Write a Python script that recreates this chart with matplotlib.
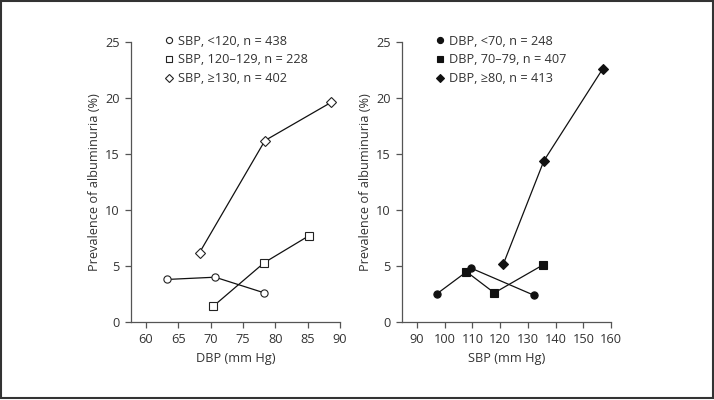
import matplotlib.pyplot as plt
from matplotlib.patches import Rectangle

# dati
dbp_circ_x = [63.3, 70.7, 78.3]
dbp_circ_y = [3.8, 4.0, 2.6]
dbp_sq_x = [70.4, 78.3, 85.2]
dbp_sq_y = [1.4, 5.3, 7.7]
dbp_dia_x = [68.3, 78.4, 88.6]
dbp_dia_y = [6.2, 16.2, 19.6]

sbp_circ_x = [97.1, 109.6, 132.1]
sbp_circ_y = [2.5, 4.8, 2.4]
sbp_sq_x = [107.8, 117.9, 135.5]
sbp_sq_y = [4.5, 2.6, 5.1]
sbp_dia_x = [121.2, 135.8, 157.0]
sbp_dia_y = [5.2, 14.4, 22.6]

left_labels = ['SBP, <120, n = 438', 'SBP, 120–129, n = 228', 'SBP, ≥130, n = 402']
right_labels = ['DBP, <70, n = 248', 'DBP, 70–79, n = 407', 'DBP, ≥80, n = 413']

plt.rcParams['font.family'] = ['Open Sans', 'DejaVu Sans']

FS = 9.2
TXT = '#333333'
AX = '#555555'

fig = plt.figure(figsize=(7.14, 4.0), dpi=100)
ax1 = fig.add_axes([131/714, 1-322/400, (340-131)/714, 280/400])
ax2 = fig.add_axes([402/714, 1-322/400, (611-402)/714, 280/400])

def style(ax, xlim, xticks, xlabel):
    ax.set_xlim(*xlim)
    ax.set_ylim(0, 25)
    ax.set_xticks(xticks)
    ax.set_yticks([0, 5, 10, 15, 20, 25])
    for s in ['top', 'right']:
        ax.spines[s].set_visible(False)
    for s in ['left', 'bottom']:
        ax.spines[s].set_color(AX)
        ax.spines[s].set_linewidth(0.9)
    ax.tick_params(direction='out', length=4, width=0.9, color=AX,
                   labelcolor=TXT, labelsize=FS, pad=4)
    ax.set_xlabel(xlabel, color=TXT, fontsize=FS, labelpad=4)
    ax.set_ylabel('Prevalence of albuminuria (%)', color=TXT, fontsize=FS, labelpad=3)

kw = dict(color='#111111', lw=0.9, markersize=5.2, markeredgewidth=0.8)
ax1.plot(dbp_circ_x, dbp_circ_y, marker='o', mfc='white', mec='#222222', label=left_labels[0], **kw)
ax1.plot(dbp_sq_x, dbp_sq_y, marker='s', mfc='white', mec='#222222', label=left_labels[1], **kw)
ax1.plot(dbp_dia_x, dbp_dia_y, marker='D', mfc='white', mec='#222222', label=left_labels[2],
         **{**kw, 'markersize': 4.8})
style(ax1, (57.7, 90), [60, 65, 70, 75, 80, 85, 90], 'DBP (mm Hg)')

ax2.plot(sbp_circ_x, sbp_circ_y, marker='o', mfc='#111111', mec='#111111', label=right_labels[0], **kw)
ax2.plot(sbp_sq_x, sbp_sq_y, marker='s', mfc='#111111', mec='#111111', label=right_labels[1], **kw)
ax2.plot(sbp_dia_x, sbp_dia_y, marker='D', mfc='#111111', mec='#111111', label=right_labels[2],
         **{**kw, 'markersize': 4.8})
style(ax2, (84.6, 160), [90, 100, 110, 120, 130, 140, 150, 160], 'SBP (mm Hg)')

for ax in (ax1, ax2):
    leg = ax.legend(loc='upper left', bbox_to_anchor=(0.155, 1.045), frameon=False,
                    handlelength=0, handletextpad=0.75, labelspacing=0.45,
                    fontsize=FS, borderaxespad=0, markerscale=0.85)
    for t in leg.get_texts():
        t.set_color(TXT)

fig.patches.append(Rectangle((0.001, 0.004), 0.997, 0.993, transform=fig.transFigure,
                             fill=False, edgecolor='#333333', lw=1.5))

fig.savefig('out.png', dpi=100)
